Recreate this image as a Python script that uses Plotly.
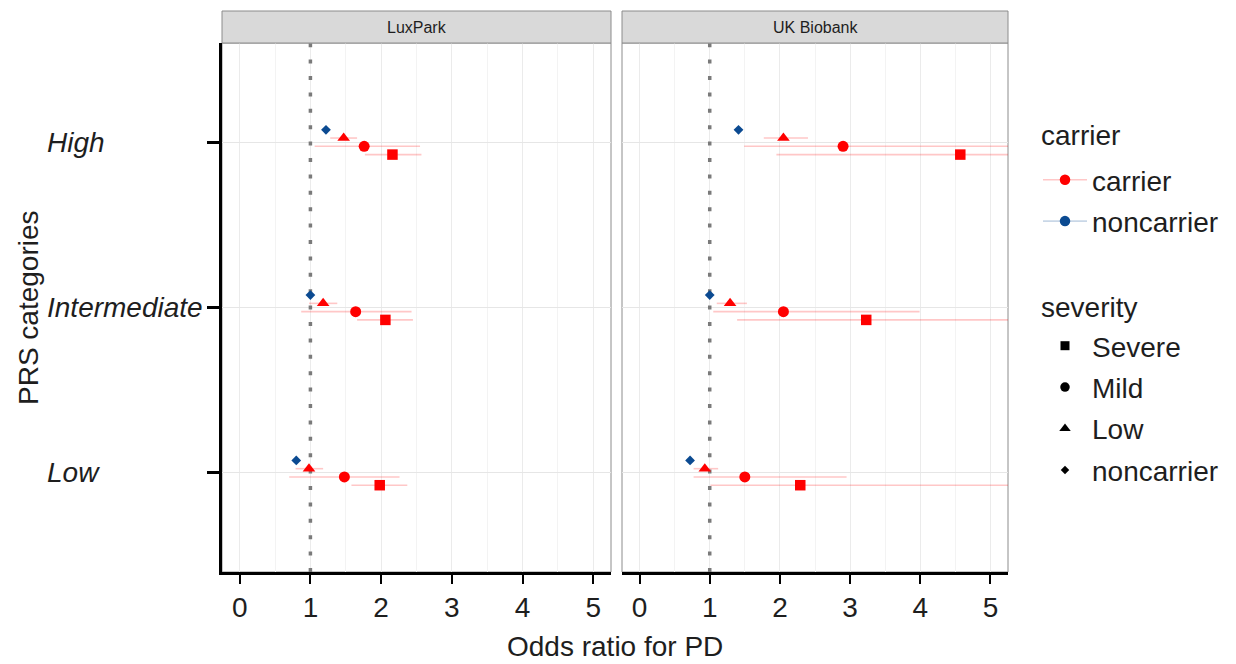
import plotly.graph_objects as go

# PRS categories (bottom to top) and cohorts
prs_levels = ["Low", "Intermediate", "High"]
cohorts = ["LuxPark", "UK Biobank"]

# Odds ratios (point estimate, lower CI, upper CI) by PRS category
lux_noncarrier_or = [0.80, 1.00, 1.22]
lux_low_or = [0.98, 1.18, 1.47]
lux_low_lo = [0.79, 0.98, 1.28]
lux_low_hi = [1.18, 1.38, 1.66]
lux_mild_or = [1.48, 1.64, 1.76]
lux_mild_lo = [0.70, 0.87, 1.06]
lux_mild_hi = [2.26, 2.43, 2.55]
lux_severe_or = [1.98, 2.06, 2.16]
lux_severe_lo = [1.58, 1.66, 1.77]
lux_severe_hi = [2.37, 2.45, 2.57]

ukb_noncarrier_or = [0.72, 1.00, 1.41]
ukb_low_or = [0.93, 1.29, 2.05]
ukb_low_lo = [0.77, 1.10, 1.77]
ukb_low_hi = [1.12, 1.53, 2.40]
ukb_mild_or = [1.50, 2.05, 2.90]
ukb_mild_lo = [0.77, 1.05, 1.49]
ukb_mild_hi = [2.95, 3.99, 6.20]
ukb_severe_or = [2.29, 3.23, 4.57]
ukb_severe_lo = [1.01, 1.39, 1.95]
ukb_severe_hi = [5.80, 8.10, 11.00]

x_ticks = [0, 1, 2, 3, 4, 5]
null_or = 1  # odds ratio of no effect

RED = "#ff0000"
BLUE = "#0b4a91"
RED_CI = "rgba(255,0,0,0.22)"
BLUE_CI = "rgba(11,74,145,0.22)"
FONT = "Liberation Sans, Arial, sans-serif"
TXT = "#1e1e1e"

# vertical dodge within each PRS category
groups = ["noncarrier", "Low", "Mild", "Severe"]
dodge = {"noncarrier": 0.075, "Low": 0.025, "Mild": -0.025, "Severe": -0.075}
symbols = {"Severe": "square", "Mild": "circle", "Low": "triangle-up", "noncarrier": "diamond"}
sizes = {"Severe": 10.5, "Mild": 11, "Low": 11, "noncarrier": 7.5}
legend_sizes = {"Severe": 9, "Mild": 9.5, "Low": 10, "noncarrier": 6.5}

cohort_data = {
    "LuxPark": {
        "noncarrier": (lux_noncarrier_or, None, None),
        "Low": (lux_low_or, lux_low_lo, lux_low_hi),
        "Mild": (lux_mild_or, lux_mild_lo, lux_mild_hi),
        "Severe": (lux_severe_or, lux_severe_lo, lux_severe_hi),
    },
    "UK Biobank": {
        "noncarrier": (ukb_noncarrier_or, None, None),
        "Low": (ukb_low_or, ukb_low_lo, ukb_low_hi),
        "Mild": (ukb_mild_or, ukb_mild_lo, ukb_mild_hi),
        "Severe": (ukb_severe_or, ukb_severe_lo, ukb_severe_hi),
    },
}

Y_RANGE = [0.4, 3.6]

fig = go.Figure()
axis_ids = {"LuxPark": ("x", "y"), "UK Biobank": ("x2", "y2")}

for cohort in cohorts:
    xa, ya = axis_ids[cohort]
    # dotted reference line at OR = 1, drawn beneath the estimates
    fig.add_trace(go.Scatter(
        x=[null_or, null_or], y=Y_RANGE, mode="lines", xaxis=xa, yaxis=ya,
        line=dict(color="#7a7a7a", width=3.5, dash="4px,12.4px"),
        hoverinfo="skip", showlegend=False,
    ))
    for g in groups:
        est, lo, hi = cohort_data[cohort][g]
        ypos = [i + 1 + dodge[g] for i in range(len(prs_levels))]
        color = BLUE if g == "noncarrier" else RED
        err = None
        if lo is not None:
            err = dict(
                type="data", symmetric=False,
                array=[h - e for h, e in zip(hi, est)],
                arrayminus=[e - l for e, l in zip(est, lo)],
                color=RED_CI, thickness=1.6, width=0,
            )
        fig.add_trace(go.Scatter(
            x=est, y=ypos, mode="markers", xaxis=xa, yaxis=ya,
            marker=dict(symbol=symbols[g], size=sizes[g], color=color,
                        line=dict(width=0)),
            error_x=err, showlegend=False, cliponaxis=True,
        ))

# legend: carrier colour
for name, col, ci in [("carrier", RED, RED_CI), ("noncarrier", BLUE, BLUE_CI)]:
    fig.add_trace(go.Scatter(
        x=[None], y=[None], mode="lines+markers", name=name,
        line=dict(color=ci, width=1.6),
        marker=dict(symbol="circle", size=10.5, color=col),
        legend="legend", legendgroup="c_" + name, showlegend=True,
    ))
# legend: severity shape
for g in ["Severe", "Mild", "Low", "noncarrier"]:
    fig.add_trace(go.Scatter(
        x=[None], y=[None], mode="markers", name=g,
        marker=dict(symbol=symbols[g], size=legend_sizes[g], color="black"),
        legend="legend2", legendgroup="s_" + g, showlegend=True,
    ))

W, H = 1236, 664
L, R, T, B = 222, 228, 43, 92
pw = W - L - R
ph = H - T - B
left_dom = [0, 389 / pw]
right_dom = [400 / pw, 1]


def py(pixel_y):
    """Convert a page y position to paper coordinates."""
    return (H - B - pixel_y) / ph


def px(pixel_x):
    """Convert a page x position to paper coordinates."""
    return (pixel_x - L) / pw


xaxis_common = dict(
    range=[-0.25, 5.25], tickmode="array", tickvals=x_ticks,
    ticktext=[str(v) for v in x_ticks],
    showgrid=True, gridcolor="#ebebeb", gridwidth=1.3,
    minor=dict(dtick=0.5, tick0=0, showgrid=True, gridcolor="#f3f3f3", gridwidth=1),
    zeroline=False, showline=True, linecolor="black", linewidth=2.5,
    ticks="outside", ticklen=9, tickwidth=2, tickcolor="black",
    tickfont=dict(family=FONT, size=28, color=TXT),
    fixedrange=True,
)
legend_common = dict(
    font=dict(size=28, family=FONT, color=TXT),
    x=px(1038), xanchor="left", yanchor="top",
    traceorder="grouped", tracegroupgap=2, itemwidth=44,
    bgcolor="rgba(0,0,0,0)",
)
fig.update_layout(
    xaxis=dict(domain=left_dom, anchor="y", **xaxis_common),
    xaxis2=dict(domain=right_dom, anchor="y2", **xaxis_common),
    yaxis=dict(
        range=Y_RANGE, tickmode="array", tickvals=[1, 2, 3],
        showticklabels=False,
        showgrid=True, gridcolor="#e6e6e6", gridwidth=1.3, zeroline=False,
        showline=True, linecolor="black", linewidth=2.5,
        ticks="outside", ticklen=12, tickwidth=2.5, tickcolor="black",
        anchor="x",
    ),
    yaxis2=dict(
        range=Y_RANGE, matches="y", tickvals=[1, 2, 3], showticklabels=False,
        showgrid=True, gridcolor="#e6e6e6", gridwidth=1.3, zeroline=False,
        showline=False, ticks="", anchor="x2",
    ),
    width=W, height=H,
    margin=dict(l=L, r=R, t=T, b=B, pad=0),
    paper_bgcolor="white", plot_bgcolor="white",
    font=dict(family=FONT, color=TXT),
    legend=dict(y=py(155), **legend_common),
    legend2=dict(y=py(321), **legend_common),
)

shapes = []
annotations = []
strip_top = 1 + 32 / ph
for cohort, dom in zip(cohorts, [left_dom, right_dom]):
    # panel border
    shapes.append(dict(type="rect", xref="paper", yref="paper",
                       x0=dom[0], x1=dom[1], y0=0, y1=1,
                       line=dict(color="#8c8c8c", width=1), layer="below"))
    # facet strip
    shapes.append(dict(type="rect", xref="paper", yref="paper",
                       x0=dom[0], x1=dom[1], y0=1, y1=strip_top,
                       fillcolor="#d9d9d9", line=dict(color="#8c8c8c", width=1),
                       layer="above"))
    annotations.append(dict(text=cohort, xref="paper", yref="paper",
                            x=(dom[0] + dom[1]) / 2, y=(1 + strip_top) / 2,
                            xanchor="center", yanchor="middle", showarrow=False,
                            font=dict(family=FONT, size=16, color="#1e1e1e")))

# left-aligned category labels on the y axis
for i, lab in enumerate(prs_levels):
    annotations.append(dict(text=lab, xref="paper", yref="y", x=px(45), y=i + 1,
                            xanchor="left", yanchor="middle", showarrow=False,
                            font=dict(family=FONT, size=28, color=TXT, style="italic")))

# legend titles
annotations.append(dict(text="carrier", xref="paper", yref="paper", x=px(1039), y=py(135),
                        xanchor="left", yanchor="middle", showarrow=False,
                        font=dict(family=FONT, size=28, color=TXT)))
annotations.append(dict(text="severity", xref="paper", yref="paper", x=px(1039), y=py(307),
                        xanchor="left", yanchor="middle", showarrow=False,
                        font=dict(family=FONT, size=28, color=TXT)))

annotations.append(dict(text="Odds ratio for PD", xref="paper", yref="paper",
                        x=0.5, y=py(646), xanchor="center", yanchor="middle",
                        showarrow=False, font=dict(family=FONT, size=28, color=TXT)))
annotations.append(dict(text="PRS categories", xref="paper", yref="paper",
                        x=px(28), y=py(308), xanchor="center",
                        yanchor="middle", textangle=-90, showarrow=False,
                        font=dict(family=FONT, size=28, color=TXT)))

fig.update_layout(shapes=shapes, annotations=annotations)
fig.write_html("out.html")
